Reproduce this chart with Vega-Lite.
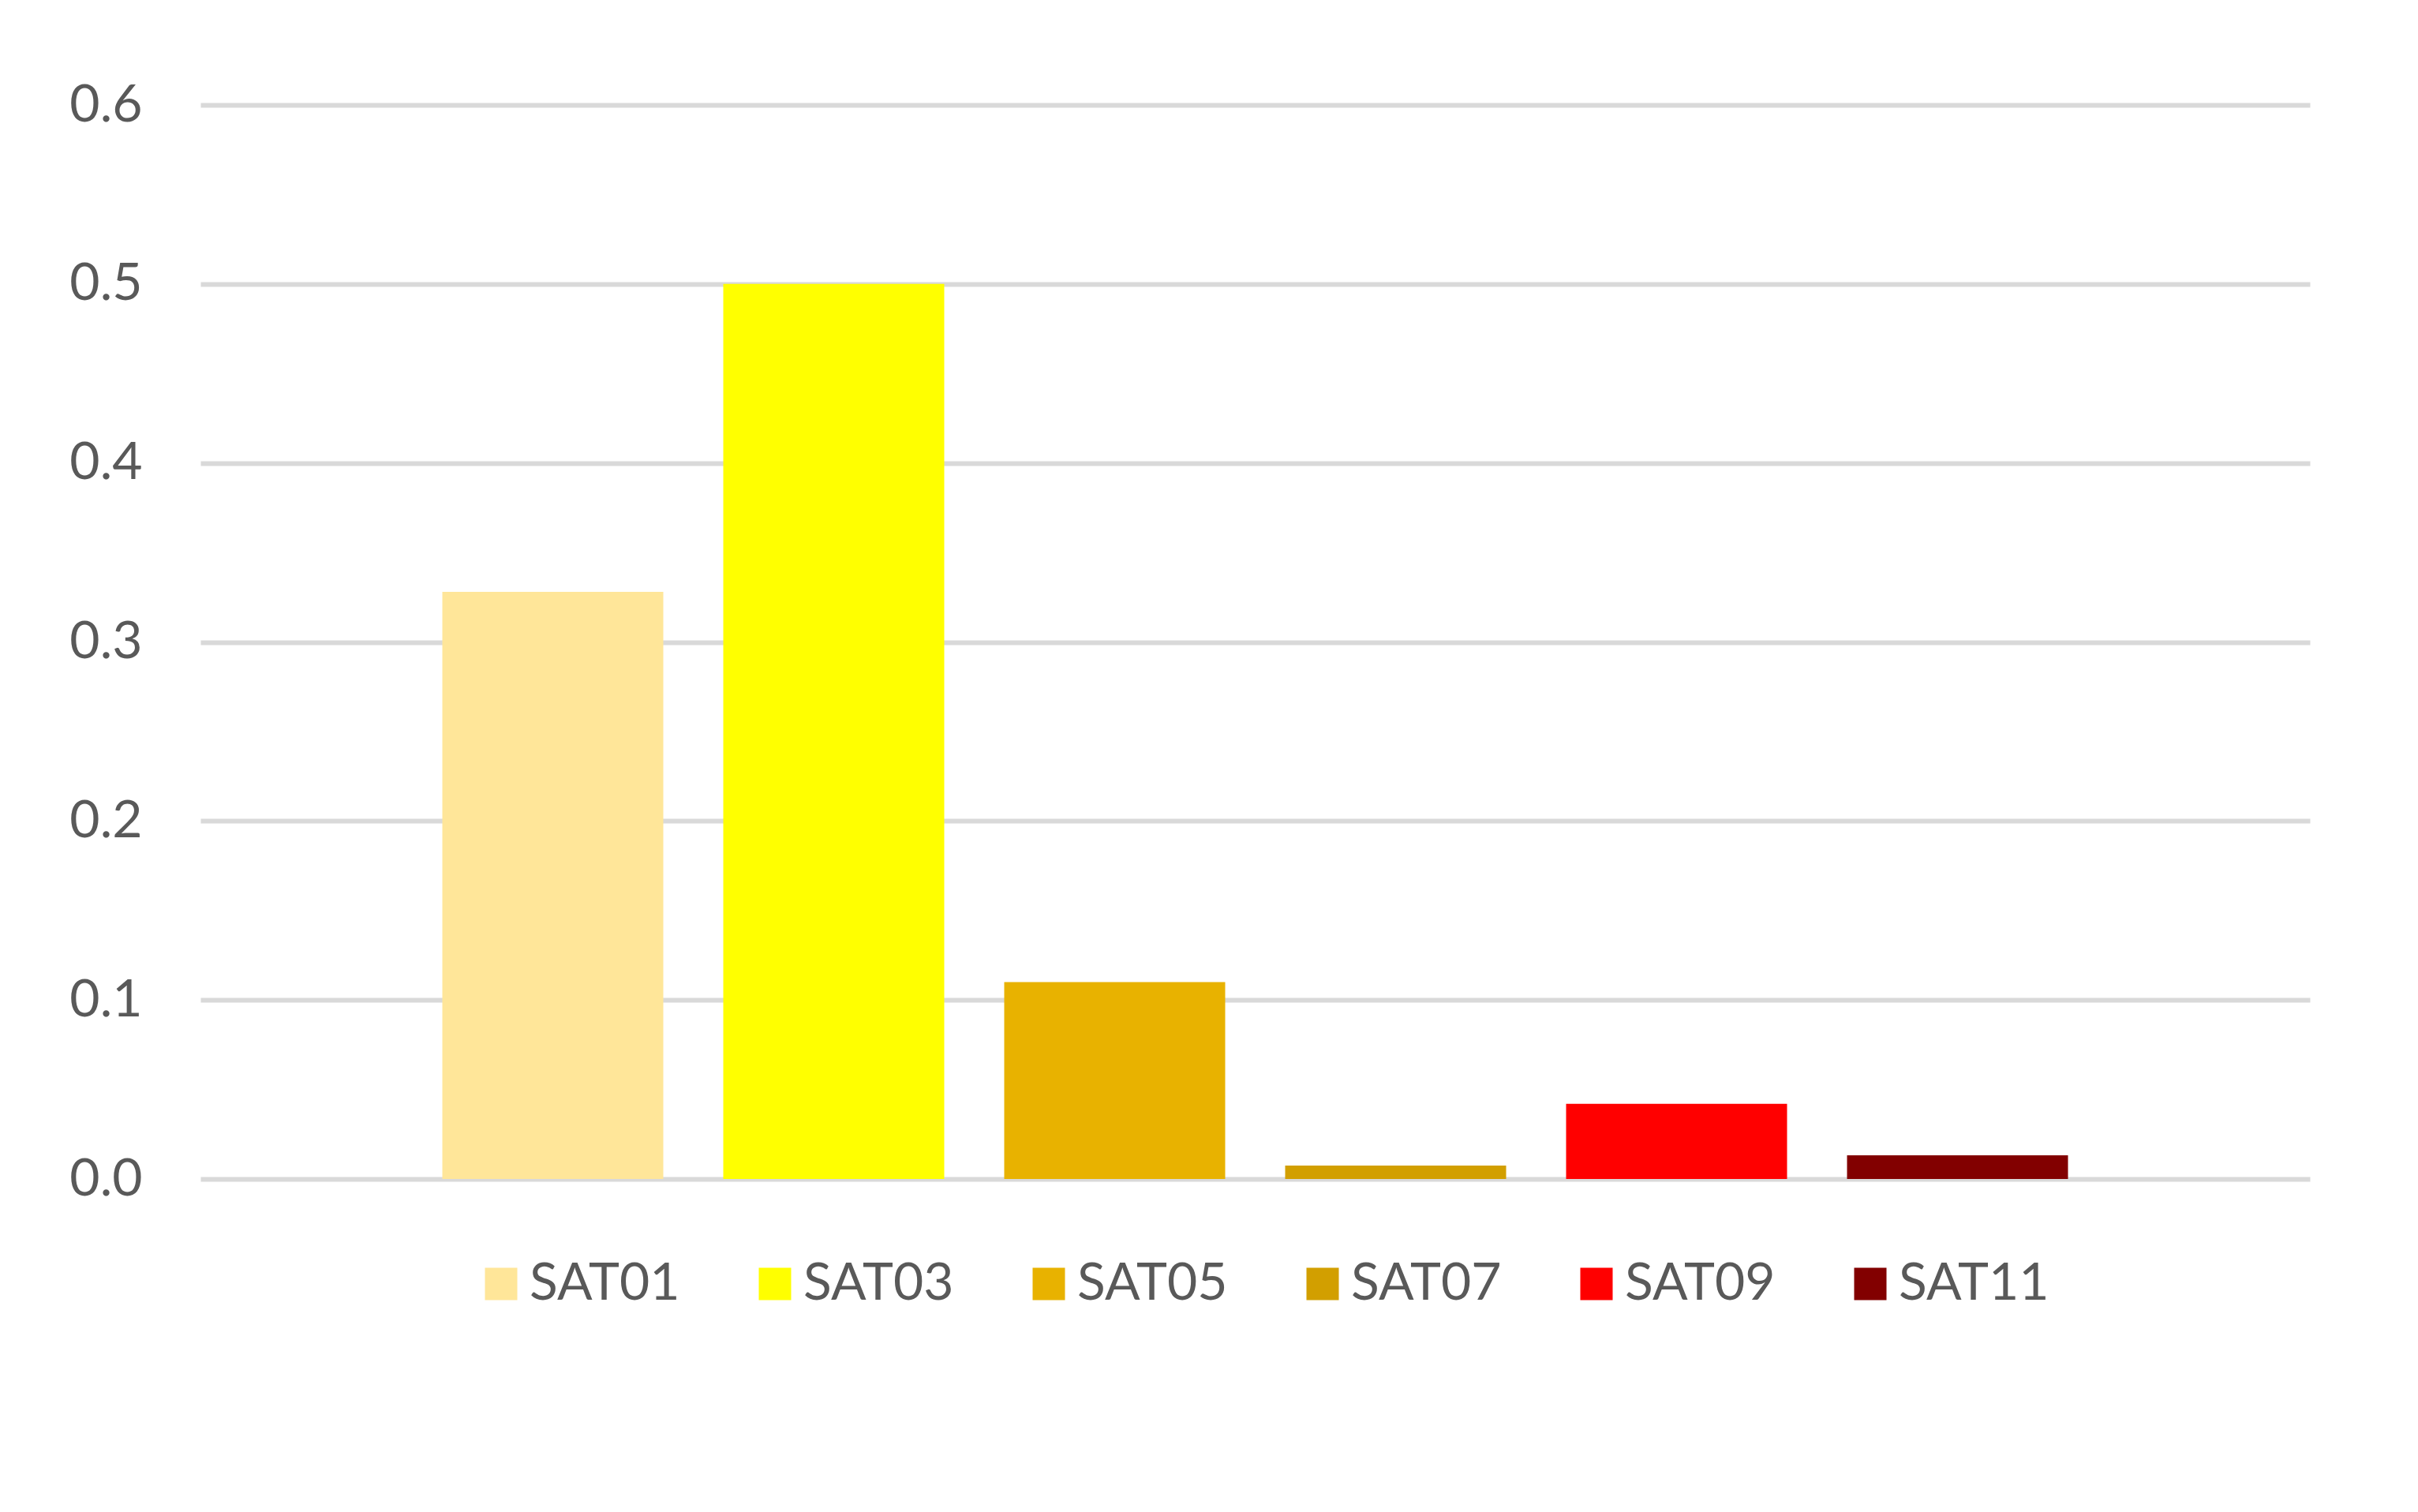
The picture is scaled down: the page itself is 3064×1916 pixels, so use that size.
{
  "$schema": "https://vega.github.io/schema/vega-lite/v6.json",
  "autosize": {"type": "none"},
  "width": 2673,
  "height": 1361,
  "padding": {"left": 254, "top": 133, "right": 137, "bottom": 422},
  "background": "white",
  "data": {
    "values": [
      {"series": "SAT01", "value": 0.328},
      {"series": "SAT03", "value": 0.5},
      {"series": "SAT05", "value": 0.11},
      {"series": "SAT07", "value": 0.0075},
      {"series": "SAT09", "value": 0.042},
      {"series": "SAT11", "value": 0.0132}
    ]
  },
  "mark": {"type": "bar"},
  "encoding": {
    "x": {
      "field": "series",
      "type": "nominal",
      "sort": null,
      "scale": {"paddingInner": 0.2135, "paddingOuter": 0.861},
      "axis": null
    },
    "y": {
      "field": "value",
      "type": "quantitative",
      "scale": {"domain": [0, 0.6], "nice": false, "zero": true},
      "axis": {
        "values": [0, 0.1, 0.2, 0.3, 0.4, 0.5, 0.6],
        "format": ".1f",
        "title": null,
        "domain": false,
        "ticks": false,
        "grid": true,
        "gridColor": "#d9d9d9",
        "gridWidth": 6,
        "labelFont": "Lato",
        "labelFontSize": 66,
        "labelColor": "#595959",
        "labelPadding": 74
      }
    },
    "fill": {
      "field": "series",
      "type": "nominal",
      "scale": {
        "domain": ["SAT01", "SAT03", "SAT05", "SAT07", "SAT09", "SAT11"],
        "range": ["#FFE699", "#FFFF00", "#E8B200", "#D29F00", "#FF0000", "#820000"]
      },
      "legend": {
        "title": null,
        "orient": "none",
        "legendX": 348,
        "legendY": 1461,
        "direction": "horizontal",
        "columns": 6,
        "gridAlign": "all",
        "columnPadding": 87,
        "padding": 0,
        "symbolType": "square",
        "symbolSize": 1681,
        "symbolStrokeWidth": 0,
        "symbolOpacity": 1,
        "labelFont": "Lato",
        "labelFontSize": 66,
        "labelColor": "#595959",
        "labelOffset": 3,
        "labelLimit": 500
      }
    }
  },
  "config": {
    "view": {"stroke": null},
    "bar": {"opacity": 1}
  }
}
